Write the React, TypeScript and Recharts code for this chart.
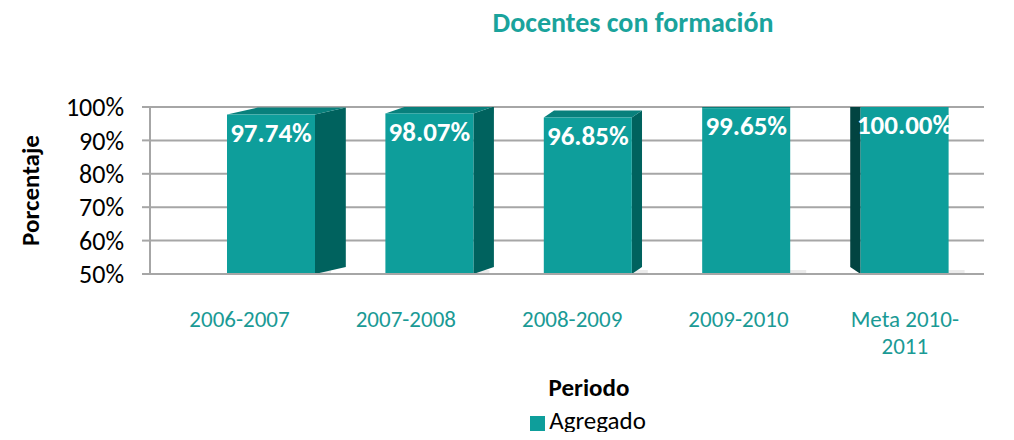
import { BarChart, Bar, XAxis, YAxis, CartesianGrid, Legend, LabelList } from 'recharts';

const periods = ['2006-2007', '2007-2008', '2008-2009', '2009-2010', 'Meta 2010-2011'];
const agregado = [97.74, 98.07, 96.85, 99.65, 100.0];
const yTicks = [50, 60, 70, 80, 90, 100];

const data = periods.map((p, i) => ({ periodo: p, agregado: agregado[i] }));

const FONT = 'Carlito, Lato, sans-serif';
const TEAL = '#0e9e9b';
const VP = 737; // perspective centre, svg x

const Bar3D = (props: any) => {
  const { x, y, width, height } = props;
  const cx = x + width / 2;
  const dx = (VP - cx) * 0.065;
  const dy = 7;
  const sideX = dx >= 0 ? x + width : x;
  const side = `${sideX},${y} ${sideX + dx},${y - dy} ${sideX + dx},${y + height - dy} ${sideX},${y + height}`;
  const top = `${x},${y} ${x + dx},${y - dy} ${x + width + dx},${y - dy} ${x + width},${y}`;
  return (
    <g>
      <rect x={x + 6} y={y + height - 4} width={width + 10} height={10} fill="#000" opacity={0.08} />
      <polygon points={side} fill={dx >= 0 ? '#00625e' : '#024441'} />
      <polygon points={top} fill="#08807c" />
      <rect x={x} y={y} width={width} height={height} fill={TEAL} />
    </g>
  );
};

const PeriodTick = (props: any) => {
  const { x, y, payload } = props;
  const shift = -8 - (VP - x) * 0.05;
  const words: string[] = payload.value === 'Meta 2010-2011' ? ['Meta 2010-', '2011'] : [payload.value];
  return (
    <text x={x + shift} y={y + 45} textAnchor="middle" fill="#1a9a95" fontSize={23} fontFamily={FONT}>
      {words.map((w, i) => (
        <tspan key={i} x={x + shift} dy={i === 0 ? 0 : 27}>
          {w}
        </tspan>
      ))}
    </text>
  );
};

export default function App() {
  return (
    <div style={{ position: 'relative', width: 998, height: 424, fontFamily: FONT }}>
      <div
        style={{
          position: 'absolute',
          top: 0,
          left: 0,
          width: 1250,
          textAlign: 'center',
          color: '#1aa39c',
          fontWeight: 'bold',
          fontSize: 28,
          lineHeight: '30px',
        }}
      >
        Docentes con formación
      </div>
      <BarChart width={998} height={424} data={data} margin={{ top: 99, right: 22, left: 0, bottom: 5 }} barSize={88}>
        <CartesianGrid vertical={false} stroke="#a6a6a6" strokeWidth={2} />
        <XAxis
          dataKey="periodo"
          height={125}
          padding={{ left: 42, right: 0 }}
          axisLine={{ stroke: '#a6a6a6', strokeWidth: 2 }}
          tickLine={false}
          tick={<PeriodTick />}
          interval={0}
          label={{ value: 'Periodo', position: 'insideBottom', offset: 3, dx: 22, fill: '#000', fontSize: 25, fontWeight: 'bold', fontFamily: FONT }}
        />
        <YAxis
          width={142}
          domain={[50, 100]}
          ticks={yTicks}
          interval={0}
          tickFormatter={(v: number) => `${v}%`}
          tick={{ fill: '#000', fontSize: 26, fontFamily: FONT }}
          axisLine={{ stroke: '#a6a6a6', strokeWidth: 2 }}
          tickLine={{ stroke: '#a6a6a6', strokeWidth: 2 }}
          tickSize={8}
          tickMargin={18}
          allowDataOverflow
          label={{ value: 'Porcentaje', angle: -90, position: 'insideLeft', offset: 22, fill: '#000', fontSize: 25, fontWeight: 'bold', fontFamily: FONT, style: { textAnchor: 'middle' } }}
        />
        <Legend
          verticalAlign="bottom"
          iconType="square"
          iconSize={15}
          wrapperStyle={{ fontFamily: FONT, fontSize: 25, lineHeight: '28px', top: 399, left: 97 }}
          formatter={(v: string) => <span style={{ color: '#000' }}>{v}</span>}
        />
        <Bar dataKey="agregado" name="Agregado" fill={TEAL} shape={<Bar3D />} isAnimationActive={false}>
          <LabelList
            dataKey="agregado"
            position="insideTop"
            offset={8}
            formatter={(v: any) => `${Number(v).toFixed(2)}%`}
            fill="#fff"
            fontSize={27}
            fontWeight="bold"
            fontFamily={FONT}
          />
        </Bar>
      </BarChart>
    </div>
  );
}
